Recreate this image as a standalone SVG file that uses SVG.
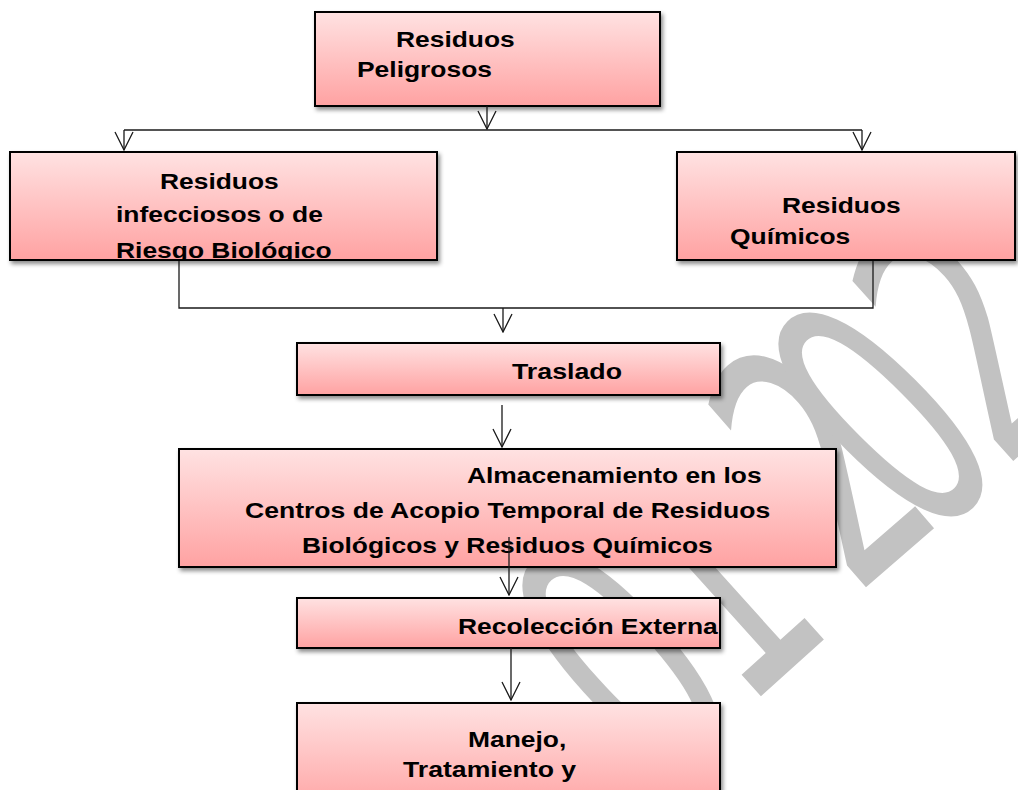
<svg xmlns="http://www.w3.org/2000/svg" width="1018" height="790" viewBox="0 0 1018 790">
  <defs>
    <linearGradient id="pink" x1="0" y1="0" x2="0" y2="1">
      <stop offset="0" stop-color="#ffe2e2"/>
      <stop offset="1" stop-color="#ffa2a2"/>
    </linearGradient>
    <filter id="shadow" x="-5%" y="-10%" width="112%" height="130%">
      <feDropShadow dx="2" dy="3" stdDeviation="2" flood-color="#000" flood-opacity="0.45"/>
    </filter>
    <marker id="ah" markerUnits="userSpaceOnUse" viewBox="0 0 20 20" refX="19" refY="10" markerWidth="20" markerHeight="20" orient="auto">
      <path d="M1,1 L19,10 L1,19" fill="none" stroke="#1a1a1a" stroke-width="1.3"/>
    </marker>
    <clipPath id="clip2"><rect x="10" y="152" width="427" height="107"/></clipPath>
    <style>
      .box { fill: url(#pink); stroke: #000; stroke-width: 2; filter: url(#shadow); }
      .t { font-family: "Liberation Sans", Arial, sans-serif; font-weight: bold; font-size: 22px; fill: #000; }
      .wm { font-family: "DejaVu Sans", sans-serif; font-size: 348px; fill: #c2c2c2; text-anchor: middle; }
      .c { fill: none; stroke: #1a1a1a; stroke-width: 1.3; }
    </style>
  </defs>
  <rect width="1018" height="790" fill="#fff"/>

  <g id="watermark">
    <text class="wm" transform="translate(706,752) rotate(-42) scale(0.58,1)">0</text>
    <text class="wm" transform="translate(790,670) rotate(-42) scale(0.58,1)">1</text>
    <text class="wm" transform="translate(902,556) rotate(-41) scale(0.56,1)">2</text>
    <text class="wm" transform="translate(970,504) rotate(-45) scale(0.56,1)">0</text>
    <text class="wm" transform="translate(1050,428) rotate(-42) scale(0.58,1)">2</text>
  </g>

  <g id="n1">
    <rect class="box" x="315" y="12" width="345" height="94"/>
    <text class="t" x="396" y="47" textLength="118.8" lengthAdjust="spacingAndGlyphs">Residuos</text>
    <text class="t" x="357" y="77" textLength="135" lengthAdjust="spacingAndGlyphs">Peligrosos</text>
  </g>

  <g id="n2">
    <rect class="box" x="10" y="152" width="427" height="108"/>
    <g clip-path="url(#clip2)">
      <text class="t" x="160" y="189" textLength="118.8" lengthAdjust="spacingAndGlyphs">Residuos</text>
      <text class="t" x="116" y="222" textLength="206.9" lengthAdjust="spacingAndGlyphs">infecciosos o de</text>
      <text class="t" x="116" y="258" textLength="215.6" lengthAdjust="spacingAndGlyphs">Riesgo Biológico</text>
    </g>
    <rect x="10" y="152" width="427" height="108" fill="none" stroke="#000" stroke-width="2"/>
  </g>

  <g id="n3">
    <rect class="box" x="677" y="152" width="338" height="108"/>
    <text class="t" x="782" y="213" textLength="118.8" lengthAdjust="spacingAndGlyphs">Residuos</text>
    <text class="t" x="730" y="244" textLength="120.3" lengthAdjust="spacingAndGlyphs">Químicos</text>
  </g>

  <g id="n4">
    <rect class="box" x="297" y="343" width="423" height="52"/>
    <text class="t" x="512" y="379" textLength="110" lengthAdjust="spacingAndGlyphs">Traslado</text>
  </g>

  <g id="n5">
    <rect class="box" x="179" y="449" width="657" height="118"/>
    <text class="t" x="467" y="483" textLength="294.6" lengthAdjust="spacingAndGlyphs">Almacenamiento en los</text>
    <text class="t" x="245" y="518" textLength="525.2" lengthAdjust="spacingAndGlyphs">Centros de Acopio Temporal de Residuos</text>
    <text class="t" x="302" y="553" textLength="410.8" lengthAdjust="spacingAndGlyphs">Biológicos y Residuos Químicos</text>
  </g>

  <g id="n6">
    <rect class="box" x="297" y="598" width="423" height="50"/>
    <text class="t" x="458" y="634" textLength="259.7" lengthAdjust="spacingAndGlyphs">Recolección Externa</text>
  </g>

  <g id="n7">
    <rect class="box" x="297" y="703" width="423" height="110"/>
    <text class="t" x="468" y="747" textLength="98.3" lengthAdjust="spacingAndGlyphs">Manejo,</text>
    <text class="t" x="403" y="777" textLength="173.1" lengthAdjust="spacingAndGlyphs">Tratamiento y</text>
  </g>

  <g id="connectors">
    <path class="c" d="M487,106 V129" marker-end="url(#ah)"/>
    <path class="c" d="M124,130 H862"/>
    <path class="c" d="M124,130 V150" marker-end="url(#ah)"/>
    <path class="c" d="M862,130 V150" marker-end="url(#ah)"/>
    <path class="c" d="M179,261 V308 H873 V261"/>
    <path class="c" d="M503,308 V332" marker-end="url(#ah)"/>
    <path class="c" d="M502,405 V447" marker-end="url(#ah)"/>
    <path class="c" d="M509,537 V595" marker-end="url(#ah)"/>
    <path class="c" d="M511,648 V700" marker-end="url(#ah)"/>
  </g>
</svg>
